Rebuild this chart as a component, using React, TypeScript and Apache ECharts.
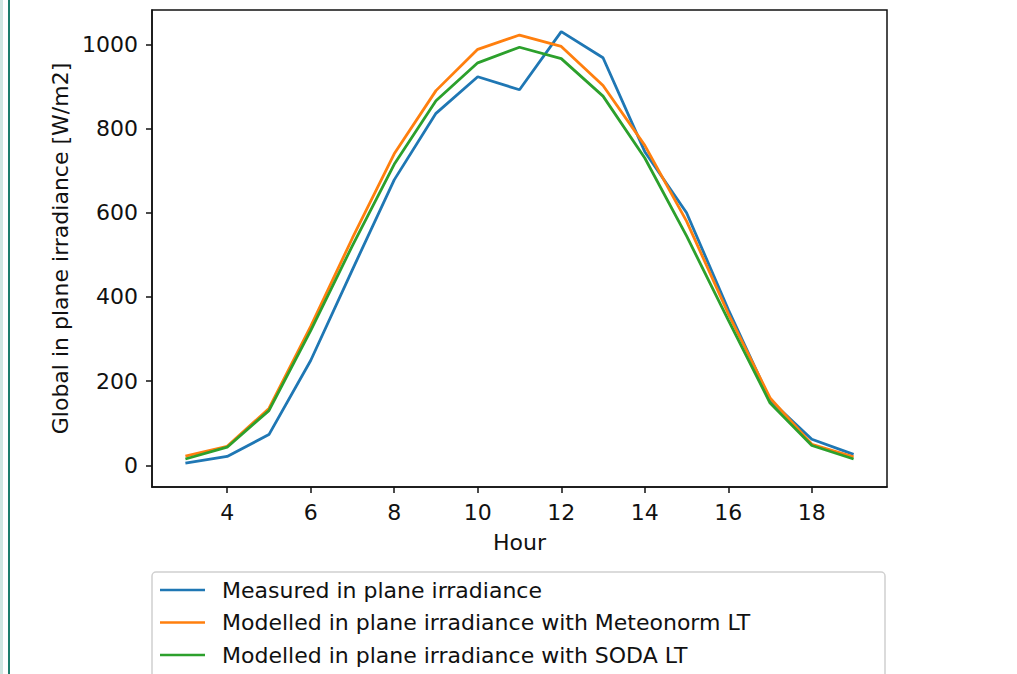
import React, { useEffect, useRef } from "react";
import * as echarts from "echarts";

const hours = [3, 4, 5, 6, 7, 8, 9, 10, 11, 12, 13, 14, 15, 16, 17, 18, 19];
const measured = [5, 21, 73, 249, 465, 678, 836, 923, 892, 1030, 968, 745, 600, 370, 155, 62, 26];
const meteonorm = [22, 45, 135, 330, 540, 740, 890, 988, 1022, 995, 902, 760, 580, 360, 160, 50, 20];
const soda = [15, 43, 130, 320, 522, 715, 866, 956, 993, 966, 877, 730, 545, 345, 148, 47, 15];
const xTicks = [4, 6, 8, 10, 12, 14, 16, 18];
const yTicks = [0, 200, 400, 600, 800, 1000];
const seriesNames = [
  "Measured in plane irradiance",
  "Modelled in plane irradiance with Meteonorm LT",
  "Modelled in plane irradiance with SODA LT",
];
const colors = ["#1f77b4", "#ff7f0e", "#2ca02c"];

const FONT = "DejaVu Sans";
const FS = 22;

export default function App() {
  const ref = useRef<HTMLDivElement>(null);
  useEffect(() => {
    if (!ref.current) return;
    const chart = echarts.init(ref.current, undefined, { renderer: "svg" });
    const all = [measured, meteonorm, soda];
    chart.setOption({
      animation: false,
      backgroundColor: "#ffffff",
      textStyle: { fontFamily: FONT },
      grid: {
        left: 152,
        top: 10,
        right: 130,
        bottom: 187,
        show: true,
        borderColor: "#111",
        borderWidth: 1.5,
        backgroundColor: "transparent",
      },
      xAxis: {
        type: "value",
        min: 2.2,
        max: 19.8,
        name: "Hour",
        nameLocation: "middle",
        nameGap: 44,
        nameTextStyle: { fontSize: FS, color: "#111", fontFamily: FONT },
        axisLine: { show: true, onZero: false, lineStyle: { color: "#111", width: 1.5 } },
        axisTick: { show: true, length: 6, customValues: xTicks, lineStyle: { color: "#111", width: 1.5 } },
        axisLabel: {
          customValues: xTicks,
          fontSize: FS,
          color: "#111",
          margin: 14,
          fontFamily: FONT,
          formatter: (v: number) => String(v),
        },
        splitLine: { show: false },
      },
      yAxis: {
        type: "value",
        min: -51.5,
        max: 1081.5,
        name: "Global in plane irradiance [W/m2]",
        nameLocation: "middle",
        nameGap: 80,
        nameRotate: 90,
        nameTextStyle: { fontSize: FS, color: "#111", fontFamily: FONT },
        axisLine: { show: true, onZero: false, lineStyle: { color: "#111", width: 1.5 } },
        axisTick: { show: true, length: 6, customValues: yTicks, lineStyle: { color: "#111", width: 1.5 } },
        axisLabel: {
          customValues: yTicks,
          fontSize: FS,
          color: "#111",
          margin: 14,
          fontFamily: FONT,
          formatter: (v: number) => String(v),
        },
        splitLine: { show: false },
      },
      legend: {
        orient: "vertical",
        left: 160,
        top: 578,
        itemWidth: 45,
        itemHeight: 2.5,
        itemGap: 8.5,
        icon: "rect",
        padding: 0,
        textStyle: { fontSize: FS, color: "#111", fontFamily: FONT, padding: [0, 0, 0, 12], lineHeight: 24 },
        data: seriesNames,
      },
      graphic: [
        { type: "rect", shape: { x: 0, y: 0, width: 3, height: 674 }, style: { fill: "#cfe6e1" } },
        { type: "rect", shape: { x: 8, y: 0, width: 2, height: 674 }, style: { fill: "#1d7d6c" } },
        {
          type: "rect",
          z: -1,
          shape: { x: 152, y: 572, width: 733, height: 130, r: 4 },
          style: { fill: "#fff", stroke: "#d0d0d0", lineWidth: 1.5 },
        },
      ],
      series: seriesNames.map((name, i) => ({
        name,
        type: "line",
        data: hours.map((h, j) => [h, all[i][j]]),
        symbol: "none",
        showSymbol: false,
        lineStyle: { color: colors[i], width: 2.8 },
        itemStyle: { color: colors[i] },
      })),
    });
    return () => chart.dispose();
  }, []);
  return <div ref={ref} style={{ position: "fixed", left: 0, top: 0, width: 1017, height: 674 }} />;
}
